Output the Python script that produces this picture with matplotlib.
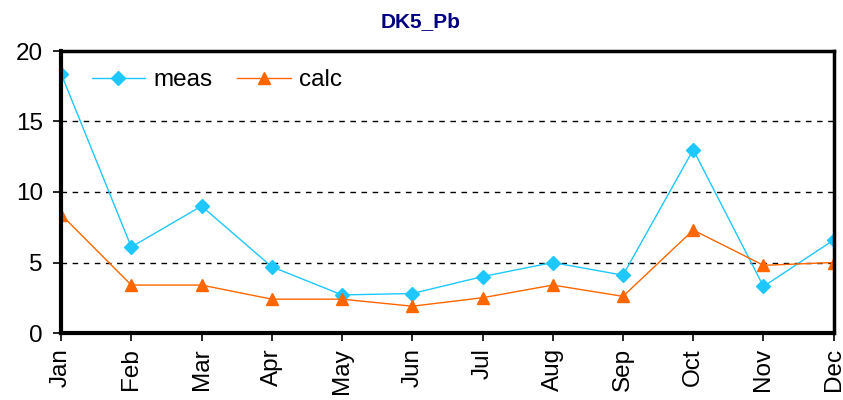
import numpy as np
import matplotlib.pyplot as plt

# monthly values
months = ["Jan", "Feb", "Mar", "Apr", "May", "Jun",
          "Jul", "Aug", "Sep", "Oct", "Nov", "Dec"]
meas = [18.4, 6.1, 9.0, 4.7, 2.7, 2.8, 4.0, 5.0, 4.1, 13.0, 3.3, 6.6]
calc = [8.4, 3.4, 3.4, 2.4, 2.4, 1.9, 2.5, 3.4, 2.6, 7.3, 4.8, 5.0]

plt.rcParams['font.family'] = ['Liberation Sans', 'DejaVu Sans']

fig = plt.figure(figsize=(8.43, 4.0), dpi=100)
ax = fig.add_axes([0.0724, 0.1675, 0.9166, 0.705])

x = np.arange(len(months))
ax.plot(x, meas, color="#1ec8ff", lw=1.0, marker="D", ms=7, label="meas")
ax.plot(x, calc, color="#ff6600", lw=1.0, marker="^", ms=8, label="calc")

ax.set_xlim(0, len(months) - 1)
ax.set_ylim(0, 20)
ax.set_yticks([0, 5, 10, 15, 20])
ax.set_xticks(x)
ax.set_xticklabels(months, rotation=90)

# dashed horizontal gridlines
for yv in [5, 10, 15]:
    ax.axhline(yv, color="black", lw=1.0, ls=(0, (4, 4)), zorder=0)

for side in ["left", "bottom"]:
    ax.spines[side].set_linewidth(3)
for side in ["top", "right"]:
    ax.spines[side].set_linewidth(2.5)

ax.tick_params(axis="both", direction="out", length=6, width=1.2,
               labelsize=17.5, colors="black")
ax.tick_params(axis="y", pad=7)
ax.tick_params(axis="x", pad=5)

fig.text(0.499, 0.945, "DK5_Pb", color="#000080", fontweight="bold",
         fontsize=15, ha="center", va="center")

ax.legend(loc="upper left", frameon=False, ncol=2, fontsize=17.5,
          handlelength=2.2, handletextpad=0.35, columnspacing=1.0,
          borderaxespad=0.0, bbox_to_anchor=(0.027, 0.97))

fig.savefig("out.png", dpi=100)
